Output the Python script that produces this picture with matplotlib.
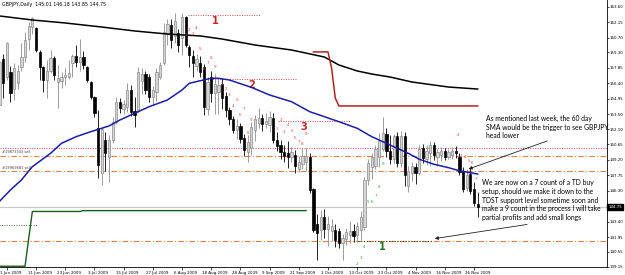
import matplotlib
matplotlib.use("Agg")
import matplotlib.pyplot as plt
from matplotlib.transforms import ScaledTranslation, blended_transform_factory

# bar index 0 = 1 Jun 2009, one bar per trading day
bars = list(range(-2, 130))
opens = [154.4, 158.7, 157.0, 157.5, 155.9, 156.4, 157.9, 158.9, 160.6, 161.7,
         161.6, 159.3, 157.9, 156.7, 157.6, 158.8, 156.5, 156.6, 157.0, 157.0,
         158.3, 159.0, 158.4, 158.9, 157.9, 156.5, 155.1, 152.2, 148.0, 151.1,
         149.5, 151.1, 152.8, 154.6, 154.0, 154.2, 155.8, 153.8, 153.8, 156.6,
         157.3, 157.0, 155.1, 155.6, 157.0, 158.3, 161.0, 161.9, 160.8, 161.1,
         160.7, 162.6, 159.8, 159.0, 158.0, 158.3, 157.9, 154.0, 157.0, 155.5,
         155.6, 156.3, 155.2, 153.9, 153.0, 152.0, 152.4, 151.3, 149.9, 150.3,
         152.0, 152.7, 153.1, 152.6, 152.5, 153.1, 151.1, 150.6, 149.9, 149.8,
         149.5, 149.7, 148.3, 148.8, 149.0, 149.5, 146.5, 143.2, 142.6, 143.8,
         142.7, 142.5, 142.6, 142.5, 141.4, 141.8, 142.1, 142.5, 142.1, 142.6,
         142.9, 147.3, 148.5, 148.6, 149.5, 150.2, 151.6, 150.0, 149.3, 151.4,
         148.9, 151.4, 146.7, 148.0, 148.5, 148.0, 150.3, 149.3, 149.8, 150.6,
         149.5, 149.7, 150.0, 149.5, 149.7, 150.0, 149.5, 148.2, 146.6, 147.9,
         146.5, 145.01]
highs = [160.3, 159.2, 160.3, 158.0, 158.3, 158.1, 160.2, 161.2, 162.2, 162.6,
         161.7, 159.5, 158.0, 158.6, 159.5, 159.0, 158.1, 157.5, 157.8, 158.6,
         159.2, 160.0, 160.6, 159.4, 158.0, 156.6, 155.2, 153.9, 152.3, 151.8,
         151.5, 153.2, 155.1, 155.0, 154.8, 156.4, 156.2, 155.1, 157.9, 157.8,
         157.6, 157.3, 156.1, 157.8, 158.4, 162.1, 162.4, 162.4, 163.0, 161.5,
         163.0, 162.7, 160.0, 159.5, 159.2, 159.0, 158.2, 157.0, 157.6, 157.3,
         156.8, 156.9, 155.6, 154.2, 153.3, 153.0, 152.7, 151.6, 151.5, 152.8,
         153.4, 154.1, 153.5, 153.6, 153.8, 153.6, 151.8, 151.1, 150.6, 151.0,
         150.4, 150.1, 149.6, 150.3, 150.3, 149.8, 146.6, 144.1, 144.5, 144.6,
         143.9, 143.6, 143.2, 142.8, 142.2, 142.8, 143.5, 143.2, 143.4, 144.4,
         147.6, 149.3, 149.8, 150.6, 151.7, 153.2, 152.2, 151.5, 151.6, 151.8,
         151.9, 151.8, 148.6, 149.0, 148.9, 150.6, 150.7, 150.6, 151.0, 150.9,
         150.2, 150.4, 150.3, 150.2, 150.4, 150.5, 149.8, 148.5, 148.3, 148.4,
         147.1, 146.18]
lows = [154.2, 155.0, 156.7, 154.6, 154.8, 155.9, 157.6, 158.4, 159.5, 161.0,
        159.3, 156.7, 155.6, 155.0, 157.4, 156.7, 154.1, 156.0, 156.2, 156.8,
        157.0, 157.9, 157.6, 157.7, 156.5, 154.9, 153.2, 147.5, 146.8, 148.2,
        147.1, 150.8, 152.6, 153.6, 153.5, 153.7, 153.3, 152.3, 153.6, 155.4,
        155.4, 154.6, 154.4, 154.7, 156.8, 158.1, 160.0, 159.7, 160.2, 159.3,
        159.1, 159.8, 157.9, 157.0, 157.6, 157.0, 153.4, 153.4, 154.6, 153.5,
        153.5, 154.0, 153.2, 152.5, 151.7, 151.2, 150.8, 149.6, 149.0, 149.7,
        151.0, 152.2, 151.9, 152.2, 151.8, 150.8, 150.0, 149.3, 149.0, 148.4,
        149.0, 148.0, 148.1, 148.3, 148.2, 146.1, 142.4, 139.8, 141.7, 141.9,
        141.1, 141.6, 141.0, 140.9, 139.8, 141.2, 141.4, 141.5, 141.5, 141.7,
        142.6, 146.8, 147.4, 148.3, 148.5, 150.0, 149.5, 148.8, 148.9, 148.5,
        148.5, 146.7, 146.2, 147.2, 146.9, 147.8, 148.9, 148.7, 148.6, 149.2,
        148.6, 149.1, 149.2, 149.3, 149.3, 149.4, 147.8, 146.2, 146.3, 146.0,
        144.9, 143.85]
closes = [158.4, 156.4, 160.2, 155.5, 157.8, 157.6, 158.9, 160.5, 161.8, 162.5,
          159.5, 157.9, 156.7, 157.6, 158.8, 157.2, 156.9, 157.0, 157.2, 157.4,
          159.0, 158.4, 158.9, 158.1, 156.7, 155.1, 153.6, 148.7, 152.1, 149.8,
          151.1, 152.8, 154.6, 154.1, 154.5, 155.8, 153.7, 153.4, 157.5, 157.3,
          155.8, 155.1, 155.8, 157.5, 158.1, 161.2, 162.0, 160.5, 162.3, 160.0,
          162.6, 160.0, 159.1, 158.3, 158.7, 157.5, 154.2, 156.5, 155.5, 156.3,
          156.2, 155.0, 153.9, 153.0, 152.0, 152.4, 151.2, 150.1, 150.9, 152.3,
          153.0, 153.1, 152.6, 152.9, 153.2, 151.1, 150.5, 149.9, 149.6, 149.5,
          149.9, 148.6, 149.0, 149.6, 149.6, 146.4, 142.6, 142.3, 143.8, 142.7,
          143.2, 143.0, 141.7, 141.4, 141.9, 142.4, 142.5, 142.0, 143.0, 143.8,
          147.3, 148.9, 149.5, 150.2, 151.0, 151.7, 150.0, 149.3, 151.4, 148.9,
          151.4, 147.8, 148.2, 148.6, 148.0, 150.2, 149.4, 150.0, 150.6, 149.7,
          149.9, 150.0, 149.5, 149.9, 150.0, 149.8, 148.1, 146.5, 147.8, 146.3,
          145.1, 144.75]

# moving averages
sma200_bars = [-2, 7, 16, 26, 35, 44, 53, 59, 68, 78, 87, 91, 96, 100, 105, 111, 121, 129]
sma200_vals = [162.73, 162.35, 162.07, 161.69, 161.32, 161.03, 160.85, 160.56, 160.0,
               159.53, 158.87, 158.12, 157.56, 157.27, 156.99, 156.52, 156.05, 155.86]
sma60_bars = [-2, 1, 4, 7, 12, 15, 19, 23, 26, 28, 31, 35, 39, 44, 48, 50, 53, 56,
              58, 61, 67, 72, 78, 83, 87, 91, 96, 100, 104, 106, 110, 113, 117, 121, 124, 129]
sma60_vals = [145.3, 146.37, 147.31, 148.56, 149.82, 150.76, 151.38, 151.85, 152.17,
              152.39, 152.95, 153.58, 154.20, 154.83, 155.77, 156.40, 156.64, 156.87,
              156.87, 156.71, 156.02, 155.30, 154.67, 153.73, 153.26, 152.79, 152.17,
              151.38, 150.76, 150.44, 149.82, 149.26, 148.79, 148.47, 148.18, 147.87]

# TDST levels
tdst_res_bars = list(range(84, 130))
tdst_res_vals = [159.35] * 5 + [157.8, 155.0] + [154.27] * 39
tdst_sup_bars = list(range(-2, 83))
tdst_sup_vals = [139.2] * 8 + [141.8] + [144.35] * 14 + [144.43] * 62

# TD setup counts (bar, price, text)
red_counts = [(49, 160.94, '1'), (50, 161.41, '2'), (51, 161.03, '3'), (52, 161.60, '4'),
              (53, 159.62, '5'), (54, 157.74, '6'), (55, 158.31, '7'), (56, 158.78, '8'),
              (57, 157.93, '9'),
              (59, 156.33, '1'), (60, 155.86, '2'), (61, 155.30, '3'), (62, 154.27, '4'),
              (63, 154.83, '5'), (64, 153.39, '6'), (65, 153.98, '7'), (66, 151.76, '8'),
              (67, 152.95, '9'),
              (74, 152.10, '1'), (75, 152.95, '2'), (76, 151.82, '3'), (77, 152.48, '4'),
              (78, 151.92, '5'), (79, 151.26, '6'), (80, 150.88, '7'), (81, 150.69, '8'),
              (82, 151.63, '9'),
              (123.5, 151.55, '2'), (124.4, 149.59, '3'), (125.5, 149.50, '4'),
              (126.5, 149.12, '5'), (127.4, 148.91, '6'), (128.5, 147.40, '7')]
green_counts = [(95.9, 139.41, '2'), (97.0, 140.01, '3'), (97.9, 141.04, '4'),
                (99.0, 145.27, '5'), (100.1, 145.20, '6'), (101.1, 145.81, '7'),
                (102.0, 146.62, '8'), (103.2, 148.79, '9')]

price_ticks = [163.60, 162.15, 160.70, 159.30, 157.85, 156.40, 154.95, 153.50, 152.10,
               150.65, 149.20, 147.75, 146.30, 143.40, 141.95, 140.55, 139.15]
date_ticks = list(range(0, 129, 8))
date_labels = ['1 Jun 2009', '11 Jun 2009', '23 Jun 2009', '3 Jul 2009', '15 Jul 2009',
               '27 Jul 2009', '6 Aug 2009', '18 Aug 2009', '28 Aug 2009', '9 Sep 2009',
               '21 Sep 2009', '1 Oct 2009', '13 Oct 2009', '23 Oct 2009', '4 Nov 2009',
               '16 Nov 2009', '26 Nov 2009']
last_price = 144.75

fig = plt.figure(figsize=(6.25, 2.75), dpi=100)
ax = fig.add_axes([0, 8 / 275, 607 / 625, 267 / 275])
ax.set_xlim(-1.86, 164.44)
ax.set_ylim(139.13, 164.23)

# horizontal levels
ax.axhline(last_price, color='#c8c8c8', lw=0.8, zorder=1)
ax.axhline(150.32, color='#d04848', ls=(0, (1, 1.5)), lw=0.7, zorder=1)
for lvl in [149.57, 148.16, 141.58]:
    ax.axhline(lvl, color='#e0804a', ls=(0, (5, 2, 1, 2)), lw=0.8, zorder=1)
ax.hlines(143.1, -2, 8.3, color='#2e7d2e', ls=(0, (1, 1.5)), lw=0.7)
ax.hlines(162.82, 49.6, 69.4, color='#d04848', ls=(0, (1, 1.5)), lw=0.7)
ax.hlines(156.78, 55.7, 79.5, color='#d04848', ls=(0, (1, 1.5)), lw=0.7)
ax.hlines(152.88, 74.3, 94.0, color='#d04848', ls=(0, (1, 1.5)), lw=0.7)
ax.hlines(141.58, 96.2, 116.5, color='#3a3a10', ls=(0, (1, 1.5)), lw=0.8)

# candles
up = [c >= o for o, c in zip(opens, closes)]
wick_col = ['#8c8c8c' if u else 'black' for u in up]
ax.vlines(bars, lows, highs, colors=wick_col, lw=0.6, zorder=2)
ax.bar(bars, [max(abs(c - o), 0.08) for o, c in zip(opens, closes)],
       bottom=[min(o, c) for o, c in zip(opens, closes)], width=0.62,
       color=['#d4d4d4' if u else 'black' for u in up], edgecolor=wick_col,
       linewidth=0.5, zorder=3)

# indicators
ax.plot(sma200_bars, sma200_vals, color='black', lw=1.1, zorder=4)
ax.plot(sma60_bars, sma60_vals, color='#1c1ca8', lw=1.1, zorder=4)
ax.plot(tdst_res_bars, tdst_res_vals, color='#b22222', lw=1.1, zorder=4)
ax.plot(tdst_sup_bars, tdst_sup_vals, color='#1e5a1e', lw=1.0, zorder=4)

for b, p, t in red_counts:
    ax.text(b, p, t, color='#e04040', fontsize=3, ha='center', va='center', zorder=5)
for b, p, t in green_counts:
    ax.text(b, p, t, color='#3a9a3a', fontsize=3, ha='center', va='center', zorder=5)

ax.text(57, 162.26, '1', color='#cc2222', fontsize=7, fontweight='bold', ha='center', va='center')
ax.text(67.1, 156.24, '2', color='#cc2222', fontsize=7, fontweight='bold', ha='center', va='center')
ax.text(81.4, 152.32, '3', color='#cc2222', fontsize=7, fontweight='bold', ha='center', va='center')
ax.text(103, 141.04, '1', color='#1e7a1e', fontsize=7, fontweight='bold', ha='center', va='center')

ax.text(-1.4, 149.9, '#19873343 sell', fontsize=2.6, color='#404040', va='center')
ax.text(-1.4, 148.45, '#19969681 sell', fontsize=2.6, color='#404040', va='center')

# comments
ax.annotate('', xy=(125.8, 148.25), xytext=(148.8, 151.07),
            arrowprops=dict(arrowstyle='-|>', color='#222222', lw=0.6, mutation_scale=5))
ax.annotate('', xy=(116.5, 141.76), xytext=(143.3, 143.17),
            arrowprops=dict(arrowstyle='-|>', color='#222222', lw=0.6, mutation_scale=5))
ax.text(131.3, 153.45, 'As mentioned last week, the 60 day\nSMA would be the trigger to see GBPJPY\nhead lower',
        family='Lato', fontsize=4.9, linespacing=1.3, va='top', ha='left', clip_on=False, zorder=6)
ax.text(130.2, 147.4, 'We are now on a 7 count of a TD buy\nsetup, should we make it down to the\n'
        'TDST support level sometime soon and\nmake a 9 count in the process I will take\n'
        'partial profits and add small longs',
        family='Lato', fontsize=4.9, linespacing=1.3, va='top', ha='left', clip_on=False, zorder=6)

ax.text(0.003, 0.992, 'GBPJPY,Daily  145.01 146.18 143.85 144.75', transform=ax.transAxes,
        fontsize=3.4, va='top', ha='left')

# axes
for s in ['left', 'top']:
    ax.spines[s].set_visible(False)
for s in ['right', 'bottom']:
    ax.spines[s].set_linewidth(0.6)
ax.yaxis.tick_right()
ax.set_yticks(price_ticks)
ax.set_yticklabels(['%.2f' % v for v in price_ticks])
ax.tick_params(axis='y', labelsize=2.9, length=1.5, width=0.5, pad=0.6)
ax.set_xticks(date_ticks)
ax.set_xticklabels(date_labels)
ax.tick_params(axis='x', labelsize=2.9, length=2, width=0.5, pad=1)
for lbl in ax.get_xticklabels():
    lbl.set_transform(lbl.get_transform() + ScaledTranslation(4 / 100, 0, fig.dpi_scale_trans))

ax.text(1.002, last_price, '%.2f' % last_price,
        transform=blended_transform_factory(ax.transAxes, ax.transData),
        color='white', fontsize=2.9, va='center', ha='left', clip_on=False,
        bbox=dict(boxstyle='square,pad=0.2', fc='black', ec='black'))

fig.savefig('out.png', dpi=100)
